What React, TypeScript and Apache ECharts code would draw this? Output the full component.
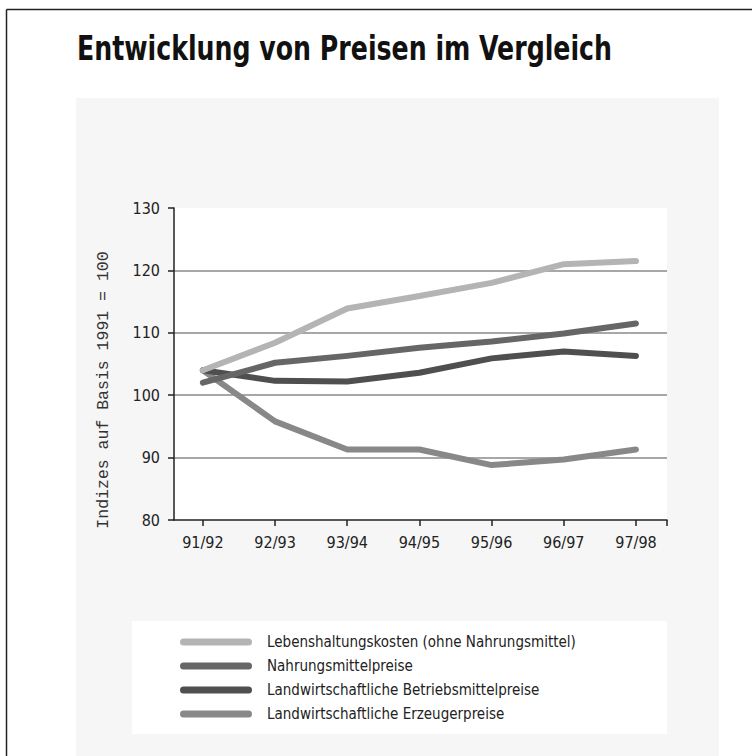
import React, { useEffect, useRef } from "react";
import * as echarts from "echarts";

const categories = ["91/92", "92/93", "93/94", "94/95", "95/96", "96/97", "97/98"];
const seriesNames = [
  "Lebenshaltungskosten (ohne Nahrungsmittel)",
  "Nahrungsmittelpreise",
  "Landwirtschaftliche Betriebsmittelpreise",
  "Landwirtschaftliche Erzeugerpreise",
];
const lebenshaltung = [104.0, 108.4, 113.9, 115.9, 118.0, 121.0, 121.5];
const nahrungsmittel = [102.0, 105.2, 106.3, 107.6, 108.6, 109.9, 111.5];
const betriebsmittel = [104.0, 102.3, 102.2, 103.6, 105.9, 107.0, 106.3];
const erzeuger = [104.0, 95.8, 91.3, 91.3, 88.8, 89.7, 91.3];
const yTicks = [80, 90, 100, 110, 120, 130];

const colors = ["#b4b4b4", "#666666", "#4f4f4f", "#888888"];
const NARROW = '"Liberation Sans Narrow", "DejaVu Sans Condensed", "Roboto Condensed", sans-serif';

export default function App() {
  const ref = useRef<HTMLDivElement>(null);
  useEffect(() => {
    if (!ref.current) return;
    const chart = echarts.init(ref.current, undefined, { renderer: "svg" });
    const allValues = [lebenshaltung, nahrungsmittel, betriebsmittel, erzeuger];
    const idx = categories.map((_, i) => i);
    chart.setOption({
      animation: false,
      backgroundColor: "#ffffff",
      graphic: [
        { type: "line", z: -5, shape: { x1: 6.5, y1: 9.5, x2: 752, y2: 9.5 }, style: { stroke: "#222", lineWidth: 1.5 } },
        { type: "line", z: -5, shape: { x1: 6.5, y1: 9.5, x2: 6.5, y2: 756 }, style: { stroke: "#222", lineWidth: 1.5 } },
        { type: "rect", z: -10, shape: { x: 76, y: 98, width: 643, height: 670 }, style: { fill: "#f6f6f6" } },
        { type: "rect", z: -9, shape: { x: 132, y: 621, width: 535, height: 113 }, style: { fill: "#ffffff" } },
        {
          type: "text",
          x: 77,
          y: 31,
          scaleX: 0.825,
          style: {
            text: "Entwicklung von Preisen im Vergleich",
            fontFamily: NARROW,
            fontSize: 34,
            fontWeight: "bold",
            fill: "#111",
            align: "left",
            verticalAlign: "top",
          },
        },
        {
          type: "text",
          x: 103,
          y: 390,
          rotation: Math.PI / 2,
          style: {
            text: "Indizes auf Basis 1991 = 100",
            fontFamily: '"Liberation Mono", "DejaVu Sans Mono", monospace',
            fontSize: 16.5,
            fill: "#333",
            align: "center",
            verticalAlign: "middle",
          },
        },
      ],
      grid: {
        left: 174,
        right: 85,
        top: 208,
        bottom: 236,
        show: true,
        backgroundColor: "#ffffff",
        borderWidth: 0,
      },
      legend: {
        orient: "vertical",
        left: 132,
        top: 621,
        padding: [12, 20, 11, 48],
        itemWidth: 72,
        itemHeight: 7,
        itemGap: 6,
        icon: "path://M3.5,0 L68.5,0 A3.5,3.5 0 0 1 68.5,7 L3.5,7 A3.5,3.5 0 0 1 3.5,0 Z",
        data: seriesNames,
        textStyle: { fontFamily: NARROW, fontSize: 15, color: "#222", lineHeight: 18, padding: [0, 0, 0, 10] },
      },
      xAxis: {
        type: "value",
        min: -0.4,
        max: 6.43,
        axisLine: { show: true, onZero: false, lineStyle: { color: "#222", width: 1.5 } },
        axisTick: { show: true, length: 6, customValues: [...idx, 6.43], lineStyle: { color: "#222", width: 1.5 } },
        axisLabel: {
          customValues: idx,
          formatter: (v: number) => categories[Math.round(v)] ?? "",
          fontFamily: NARROW,
          fontSize: 16,
          color: "#222",
          margin: 14,
        },
        splitLine: { show: false },
      },
      yAxis: {
        type: "value",
        min: yTicks[0],
        max: yTicks[yTicks.length - 1],
        interval: 10,
        axisLine: { show: true, onZero: false, lineStyle: { color: "#222", width: 1.5 } },
        axisTick: { show: true, length: 6, lineStyle: { color: "#222", width: 1.5 } },
        axisLabel: { fontFamily: NARROW, fontSize: 16, color: "#222", margin: 14 },
        splitLine: { show: true, showMaxLine: false, showMinLine: false, lineStyle: { color: "#8a8a8a", width: 1.5 } },
      },
      series: seriesNames.map((name, s) => ({
        name,
        type: "line",
        data: idx.map((i) => [i, allValues[s][i]]),
        showSymbol: false,
        symbol: "none",
        color: colors[s],
        lineStyle: { width: 6, color: colors[s], cap: "round", join: "round" },
        z: 2 + (3 - s),
      })),
    });
    return () => chart.dispose();
  }, []);
  return (
    <div
      ref={ref}
      style={{ position: "fixed", left: 0, top: 0, width: 752, height: 756 }}
    />
  );
}
